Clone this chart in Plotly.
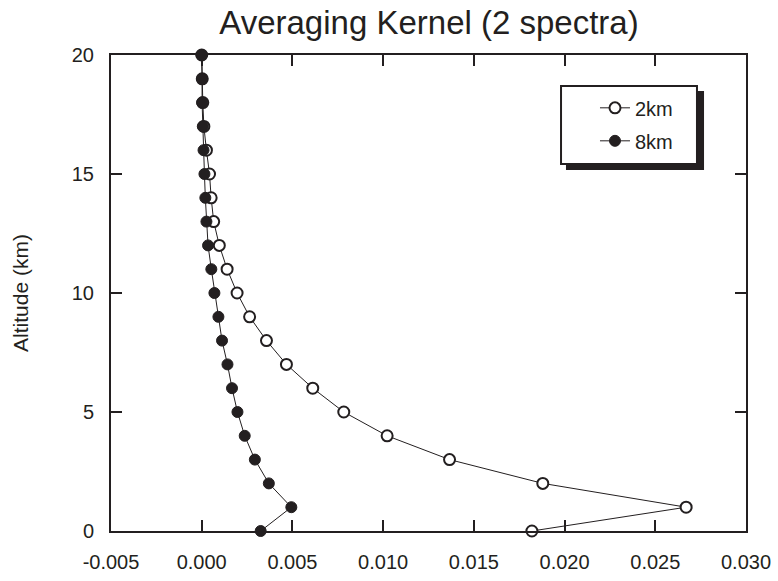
import plotly.graph_objects as go

altitude = list(range(0, 21))
ak_2km = [0.0182, 0.0267, 0.0188, 0.01366, 0.01022, 0.00783, 0.00612, 0.00467,
          0.00357, 0.00264, 0.00195, 0.00140, 0.00097, 0.00066, 0.00052, 0.00043,
          0.00026, 0.00012, 0.00006, 0.00003, 0.0]
ak_8km = [0.00325, 0.00494, 0.00370, 0.00293, 0.00237, 0.00197, 0.00167, 0.00142,
          0.00112, 0.00092, 0.00070, 0.00053, 0.00035, 0.00026, 0.00020, 0.00015,
          0.00010, 0.00006, 0.00002, 0.00002, 0.0]

x_tickvals = [-0.005, 0.0, 0.005, 0.010, 0.015, 0.020, 0.025, 0.030]
x_ticktext = ["-0.005", "0.000", "0.005", "0.010", "0.015", "0.020", "0.025", "0.030"]
y_tickvals = [0, 5, 10, 15, 20]

FONT = "Liberation Sans, Arial, sans-serif"
INK = "#231f20"

fig = go.Figure()
fig.add_trace(go.Scatter(
    x=ak_2km, y=altitude, name="2km", mode="lines+markers",
    line=dict(color=INK, width=1),
    marker=dict(symbol="circle", size=11, color="white", line=dict(color=INK, width=2)),
    legendgroup="a", cliponaxis=False,
))
fig.add_trace(go.Scatter(
    x=ak_8km, y=altitude, name="8km", mode="lines+markers",
    line=dict(color=INK, width=1),
    marker=dict(symbol="circle", size=11, color=INK, line=dict(color=INK, width=1)),
    legendgroup="b", cliponaxis=False,
))

# legend box drop shadow and frame
fig.add_shape(type="rect", xref="paper", yref="paper",
              x0=0.7165, x1=0.9339, y0=0.7584, y1=0.9244,
              fillcolor=INK, line=dict(width=0), layer="above")
fig.add_shape(type="rect", xref="paper", yref="paper",
              x0=0.7087, x1=0.9228, y0=0.771, y1=0.9349,
              fillcolor="white", line=dict(color=INK, width=2), layer="above")

axis_common = dict(
    showgrid=False, zeroline=False, showline=True, linecolor=INK, linewidth=2,
    ticks="inside", ticklen=11, tickwidth=2, tickcolor=INK, mirror="ticks",
    tickfont=dict(family=FONT, size=20, color=INK), automargin=False,
)

fig.update_layout(
    width=778, height=581,
    margin=dict(l=111, r=32, t=55, b=50),
    paper_bgcolor="white", plot_bgcolor="white",
    title=dict(text="Averaging Kernel (2 spectra)", x=0.5514, xanchor="center",
               y=0.962, yanchor="middle",
               font=dict(family=FONT, size=33, color=INK)),
    xaxis=dict(range=[-0.005, 0.030], tickvals=x_tickvals, ticktext=x_ticktext,
               ticklabelstandoff=12, **axis_common),
    yaxis=dict(range=[0, 20], tickvals=y_tickvals, ticklabelstandoff=11,
               title=dict(text="Altitude (km)", font=dict(family=FONT, size=21, color=INK), standoff=37),
               **axis_common),
    legend=dict(x=0.7622, y=0.93, xanchor="left", yanchor="top",
                bgcolor="rgba(0,0,0,0)", borderwidth=0,
                font=dict(family=FONT, size=20, color=INK),
                traceorder="grouped", tracegroupgap=4),
    showlegend=True,
)

fig.write_html("out.html")
